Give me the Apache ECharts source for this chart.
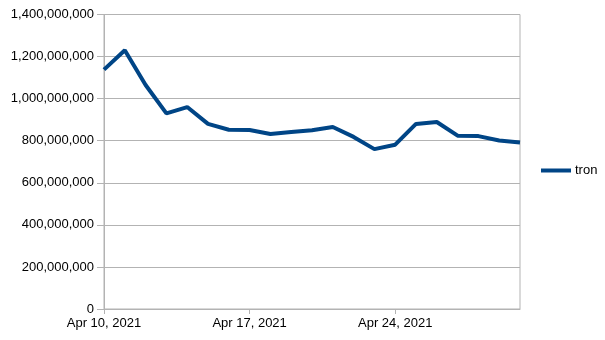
<!DOCTYPE html>
<html><head><meta charset="utf-8">
<script src="https://cdn.jsdelivr.net/npm/echarts@6/dist/echarts.min.js"></script>
<style>html,body{margin:0;padding:0;background:#fff}#c{width:605px;height:340px}</style>
</head><body><div id="c"></div>
<script>
const categories = ["Apr 10, 2021","Apr 11, 2021","Apr 12, 2021","Apr 13, 2021","Apr 14, 2021","Apr 15, 2021","Apr 16, 2021","Apr 17, 2021","Apr 18, 2021","Apr 19, 2021","Apr 20, 2021","Apr 21, 2021","Apr 22, 2021","Apr 23, 2021","Apr 24, 2021","Apr 25, 2021","Apr 26, 2021","Apr 27, 2021","Apr 28, 2021","Apr 29, 2021","Apr 30, 2021"];
const tron = [1138000000,1230000000,1065000000,930000000,960000000,880000000,852000000,851000000,832000000,841000000,850000000,865000000,818000000,760000000,781000000,880000000,889000000,824000000,822000000,801000000,792000000];
const seriesName = "tron";

const chart = echarts.init(document.getElementById('c'), null, {renderer:'canvas'});
chart.setOption({
  animation:false,
  textStyle:{fontFamily:'Liberation Sans'},
  grid:{left:104,right:85,top:14.5,bottom:31,show:true,borderColor:'#b3b3b3',borderWidth:1,containLabel:false},
  legend:{
    data:[{name:seriesName,icon:'rect'}],
    left:536, top:159, orient:'vertical',
    itemWidth:30, itemHeight:4, itemGap:5,
    textStyle:{fontSize:13,color:'#000',fontFamily:'Liberation Sans',padding:[0,0,0,-1]}
  },
  xAxis:{
    type:'category', data:categories, boundaryGap:false,
    axisLine:{lineStyle:{color:'#b3b3b3'}},
    axisTick:{show:true,interval:6,length:5,lineStyle:{color:'#b3b3b3'}},
    axisLabel:{interval:6,color:'#000',fontSize:13,margin:8,fontFamily:'Liberation Sans'},
    splitLine:{show:false}
  },
  yAxis:{
    type:'value', min:0, max:1400000000, interval:200000000,
    axisLine:{show:true,lineStyle:{color:'#b3b3b3'}},
    axisTick:{show:true,length:7,lineStyle:{color:'#b3b3b3'}},
    axisLabel:{color:'#000',fontSize:13,margin:10,fontFamily:'Liberation Sans',
      formatter:v=>v.toLocaleString('en-US')},
    splitLine:{show:true,lineStyle:{color:'#b3b3b3',width:1}}
  },
  series:[{
    name:seriesName, type:'line', data:tron, symbol:'none',
    lineStyle:{color:'#004586',width:4},
    itemStyle:{color:'#004586'}
  }]
});
</script></body></html>
